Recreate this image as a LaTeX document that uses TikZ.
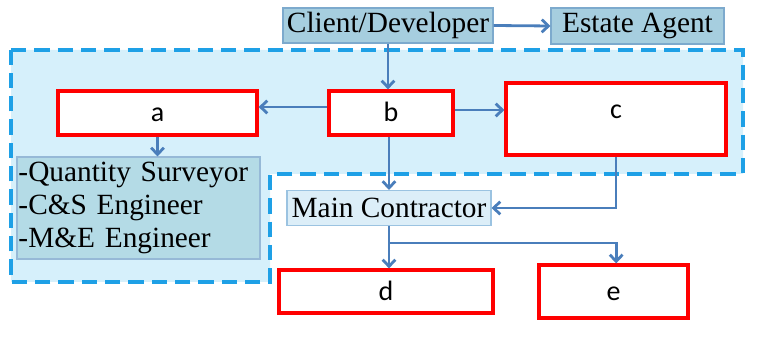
\documentclass[tikz,border=0pt]{standalone}
\usepackage{fontspec}
\setmainfont{Liberation Serif}
\setsansfont{Carlito}
\usepackage{tikz}
\usetikzlibrary{arrows.meta}

\definecolor{zonefill}{RGB}{214,240,251}
\definecolor{zoneline}{RGB}{30,160,230}
\definecolor{clientfill}{RGB}{166,206,223}
\definecolor{clientline}{RGB}{125,170,205}
\definecolor{listfill}{RGB}{180,219,230}
\definecolor{listline}{RGB}{150,185,215}
\definecolor{mainfill}{RGB}{220,238,248}
\definecolor{mainline}{RGB}{155,195,225}
\definecolor{linkblue}{RGB}{74,126,187}

\begin{document}
\begin{tikzpicture}[x=0.75pt, y=-0.75pt, font=\fontsize{22}{24.75}\selectfont,
    party/.style={draw=clientline, fill=clientfill, line width=0.8pt, inner sep=1pt},
    redbox/.style={draw=red, line width=2.4pt, fill=white, inner sep=0pt, text height=13pt, font=\sffamily\fontsize{21}{24}\selectfont},
    link/.style={draw=linkblue, line width=2.1pt, -{Straight Barb[length=5pt, width=9.5pt]}}]
        \useasboundingbox (0,0) rectangle (769,341);
        % dashed zone behind the consultants
        \draw[zoneline, fill=zonefill, line width=2.4pt, dash pattern=on 11.5pt off 6pt]
          (11,50) -- (743,50) -- (743,174) -- (270,174) -- (270,282) -- (11,282) -- cycle;

        \node[party, minimum width=157.5pt, minimum height=26.25pt] (client) at (388,25.5) {Client/Developer};
        \node[party, minimum width=129.75pt, minimum height=27pt] (agent) at (637.5,26) {Estate Agent};
        \node[redbox, minimum width=149.25pt, minimum height=33pt] (a) at (157.5,113) {a};
        \node[redbox, minimum width=93pt, minimum height=33pt] (b) at (391,113) {b};
        \node[redbox, minimum width=165pt, minimum height=54pt, text depth=13.5pt] (c) at (616,119) {c};
        \node[party, fill=listfill, draw=listline, minimum width=182.25pt, minimum height=76.5pt,
          text width=180pt, align=left] (consultants) at (138.5,208)
          {-Quantity Surveyor\\-C\&S Engineer\\-M\&E Engineer};
        \node[party, fill=mainfill, draw=mainline, minimum width=153pt, minimum height=26.25pt] (main) at (389,208) {Main Contractor};
        \node[redbox, minimum width=160.5pt, minimum height=32.25pt] (d) at (386,291.5) {d};
        \node[redbox, minimum width=111.75pt, minimum height=39.75pt] (e) at (613.5,291.5) {e};
        \coordinate (fork) at ([yshift=-12.75pt]main.south);

        \draw[link] (client.east) -- (agent.west);
        \draw[link] (client.south) -- (client.south |- b.north);
        \draw[link] ([yshift=4.5pt]b.west) -- ([yshift=4.5pt]a.east);
        \draw[link] ([yshift=2.25pt]b.east) -- ([yshift=2.25pt]b.east -| c.west);
        \draw[link] (a.south) -- (a.south |- consultants.north);
        \draw[link] (b.south -| main.north) -- (main.north);
        \draw[link] (c.south) |- (main.east);
        \draw[link] (main.south) -- (main.south |- d.north);
        \draw[link, -] (main.south) -- (fork);
        \draw[link] (fork) -| ([xshift=2pt]e.north);
      \end{tikzpicture}
\end{document}
